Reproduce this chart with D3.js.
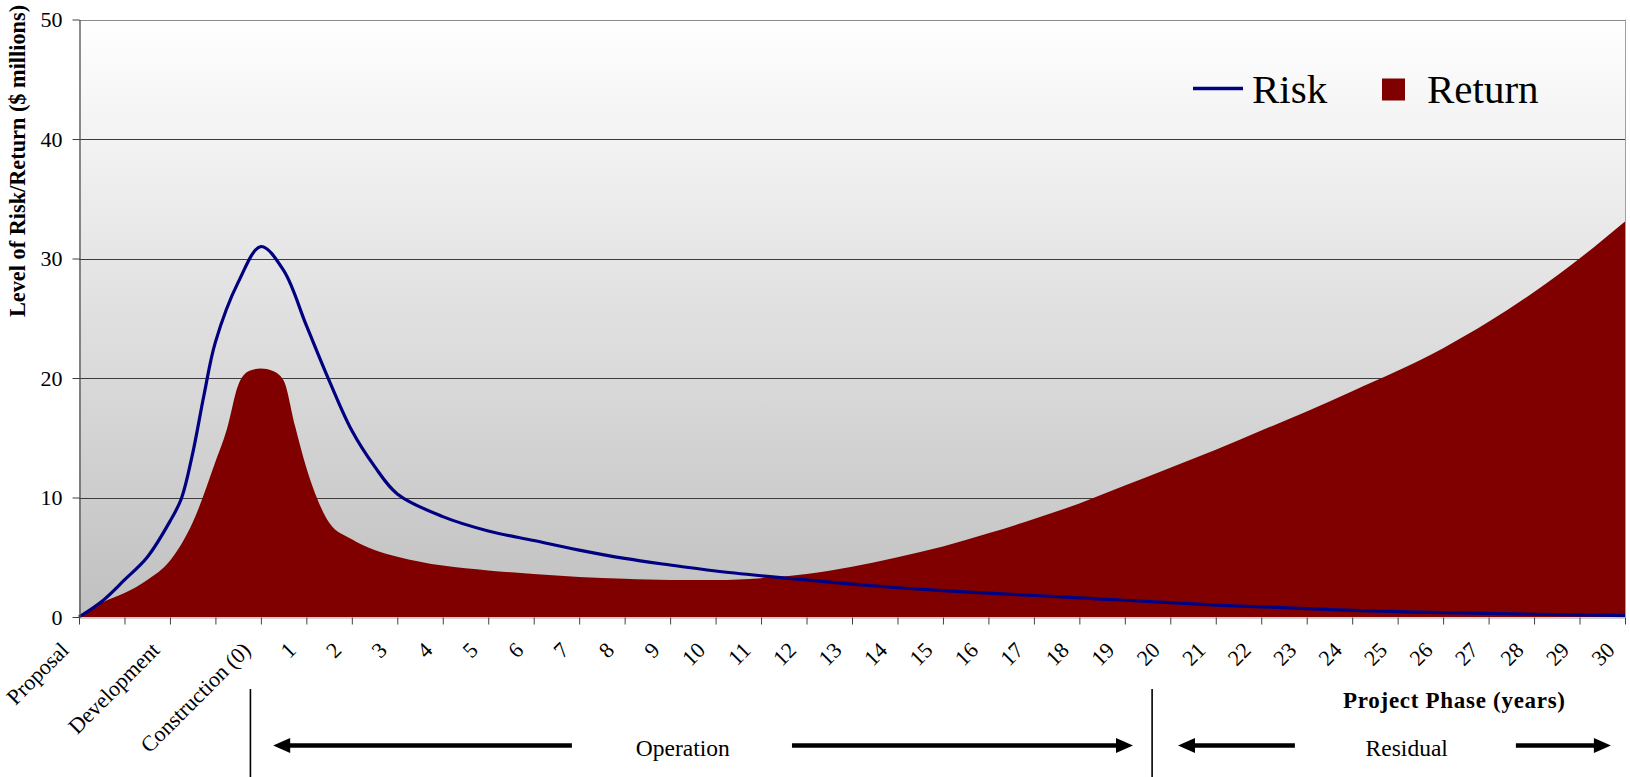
<!DOCTYPE html>
<html>
<head>
<meta charset="utf-8">
<script src="https://cdn.jsdelivr.net/npm/d3@7"></script>
<style>
  html, body { margin: 0; padding: 0; background: #ffffff; }
  svg { display: block; font-family: "Liberation Serif", "Times New Roman", serif; }
</style>
</head>
<body>
<svg id="chart" width="1630" height="777"></svg>
<script>
// Project phases along the horizontal axis (one per tick mark)
const phaseLabels = [
  "Proposal", "", "Development", "", "Construction (0)",
  "1", "2", "3", "4", "5", "6", "7", "8", "9", "10",
  "11", "12", "13", "14", "15", "16", "17", "18", "19", "20",
  "21", "22", "23", "24", "25", "26", "27", "28", "29", "30"
];

// Vertical axis ticks ($ millions)
const valueTicks = [0, 10, 20, 30, 40, 50];

// Risk profile: position on the phase axis and level ($ millions)
const riskPhase = [0, 0.5, 1, 1.5, 2, 2.25, 2.5, 2.75, 3, 3.5, 4, 4.5, 5, 5.5, 6, 6.5, 7,
  8, 9, 10, 11, 12, 13, 14, 15, 16, 17, 18, 19, 20, 21, 22, 23, 24, 25, 26, 27, 28, 29, 30, 31, 32, 33, 34];
const riskValue = [0, 1.3, 3.1, 5.0, 8.0, 9.9, 13.7, 18.6, 23.0, 28.0, 31.0, 29.0, 24.4, 19.8, 15.6, 12.6, 10.3,
  8.4, 7.2, 6.4, 5.6, 4.9, 4.35, 3.85, 3.45, 3.1, 2.75, 2.45, 2.2, 2.0, 1.8, 1.6, 1.4, 1.2, 1.0, 0.85, 0.7, 0.55, 0.45, 0.37, 0.3, 0.23, 0.17, 0.12];

// Return profile: position on the phase axis and level ($ millions)
const returnPhase = [0, 0.5, 1, 1.5, 2, 2.5, 3, 3.25, 3.5, 3.75, 4, 4.25, 4.5, 4.75, 5, 5.25, 5.5, 6, 6.5, 7,
  8, 9, 10, 11, 12, 13, 14, 15, 16, 17, 18, 19, 20, 21, 22, 23, 24, 25, 26, 27, 28, 29, 30, 31, 32, 33, 34];
const returnValue = [0, 1.2, 2.0, 3.1, 4.7, 7.9, 13.0, 15.7, 19.4, 20.6, 20.8, 20.6, 19.8, 16.0, 12.5, 9.8, 7.9, 6.5, 5.6, 5.05,
  4.3, 3.9, 3.6, 3.35, 3.2, 3.1, 3.1, 3.25, 3.6, 4.2, 5.0, 5.9, 7.0, 8.2, 9.5, 11.0, 12.5, 14.0, 15.6, 17.2, 18.9, 20.6, 22.5, 24.7, 27.2, 30.0, 33.1];

const seriesNames = ["Risk", "Return"];
const seriesColors = ["#000080", "#800000"];

const yTitle = "Level of Risk/Return ($ millions)";
const xTitle = "Project Phase (years)";
// Period spans below the axis: label, start/end on the phase axis
const periods = [
  { name: "Operation", divider: 3.77, leftTip: 4.27, leftEnd: 10.84, center: 13.28, rightStart: 15.68, rightTip: 23.18 },
  { name: "Residual",  divider: 23.6, leftTip: 24.17, leftEnd: 26.74, center: 29.2, rightStart: 31.6, rightTip: 33.69 }
];

// ---- layout ----
const W = 1630, H = 777;
const plot = { left: 79, right: 1625, top: 19.5, bottom: 617 };

const svg = d3.select("#chart");

const x = d3.scaleLinear().domain([0, phaseLabels.length - 1]).range([plot.left, plot.right]);
const y = d3.scaleLinear().domain([0, 50]).range([plot.bottom, plot.top]);

// plot-area background: white fading to grey
const defs = svg.append("defs");
const grad = defs.append("linearGradient").attr("id", "bg").attr("x1", 0).attr("y1", 0).attr("x2", 0).attr("y2", 1);
grad.append("stop").attr("offset", "0%").attr("stop-color", "#ffffff");
grad.append("stop").attr("offset", "100%").attr("stop-color", "#c0c0c0");

svg.append("rect")
  .attr("x", plot.left).attr("y", plot.top)
  .attr("width", plot.right - plot.left).attr("height", plot.bottom - plot.top)
  .attr("fill", "url(#bg)");

// right edge of plot area
svg.append("line")
  .attr("x1", plot.right + 0.5).attr("x2", plot.right + 0.5)
  .attr("y1", plot.top).attr("y2", plot.bottom)
  .attr("stroke", "#a0a0a0").attr("stroke-width", 1);

// horizontal gridlines
svg.append("g").selectAll("line")
  .data(valueTicks.filter(v => v > 0))
  .join("line")
  .attr("x1", plot.left).attr("x2", plot.right)
  .attr("y1", d => Math.round(y(d)) + 0.5).attr("y2", d => Math.round(y(d)) + 0.5)
  .attr("stroke", d => d === 50 ? "#8a8a8a" : "#3c3c3c")
  .attr("stroke-width", 1);

// Return area
const returnData = returnPhase.map((p, i) => [p, returnValue[i]]);
svg.append("path")
  .datum(returnData)
  .attr("fill", seriesColors[1])
  .attr("d", d3.area()
    .x(d => x(d[0]))
    .y0(y(0))
    .y1(d => y(d[1]))
    .curve(d3.curveMonotoneX));

// Risk line
const riskData = riskPhase.map((p, i) => [p, riskValue[i]]);
svg.append("path")
  .datum(riskData)
  .attr("fill", "none")
  .attr("stroke", seriesColors[0])
  .attr("stroke-width", 3.2)
  .attr("stroke-linejoin", "round")
  .attr("d", d3.line()
    .x(d => x(d[0]))
    .y(d => y(d[1]))
    .curve(d3.curveCatmullRom.alpha(0.5)));

// y axis
const yAxis = svg.append("g")
  .attr("transform", `translate(${plot.left + 0.5},0)`)
  .call(d3.axisLeft(y).tickValues(valueTicks).tickSize(7).tickSizeOuter(0).tickPadding(10));
yAxis.select(".domain").attr("stroke", "#505050").attr("stroke-width", 1.3);
yAxis.selectAll(".tick line").attr("stroke", "#404040");
yAxis.selectAll(".tick text")
  .attr("font-family", "Liberation Serif, Times New Roman, serif")
  .attr("font-size", 22).attr("fill", "#000");

// x axis
const xAxis = svg.append("g")
  .attr("transform", `translate(0,${plot.bottom + 0.5})`)
  .call(d3.axisBottom(x)
    .tickValues(d3.range(phaseLabels.length))
    .tickFormat(i => phaseLabels[i])
    .tickSize(7).tickSizeOuter(0));
xAxis.select(".domain").attr("stroke", "#a0a0a0").attr("stroke-width", 1);
xAxis.selectAll(".tick line").attr("stroke", "#404040");
xAxis.selectAll(".tick text")
  .attr("font-family", "Liberation Serif, Times New Roman, serif")
  .attr("font-size", 22).attr("fill", "#000")
  .attr("text-anchor", "end")
  .attr("x", 0).attr("y", 0).attr("dy", 0)
  .attr("transform", "translate(-9.5,34) rotate(-45)");

// axis titles
svg.append("text")
  .attr("transform", "translate(25,161) rotate(-90)")
  .attr("text-anchor", "middle")
  .attr("font-weight", "bold")
  .attr("font-size", 22.3)
  .text(yTitle);

svg.append("text")
  .attr("x", x(30.24)).attr("y", 708)
  .attr("text-anchor", "middle")
  .attr("font-weight", "bold")
  .attr("font-size", 23)
  .attr("textLength", 222)
  .attr("lengthAdjust", "spacing")
  .text(xTitle);

// legend
const legend = svg.append("g");
legend.append("line")
  .attr("x1", 1193).attr("x2", 1243).attr("y1", 88.5).attr("y2", 88.5)
  .attr("stroke", seriesColors[0]).attr("stroke-width", 3.5);
legend.append("text").attr("x", 1252).attr("y", 103).attr("font-size", 41).text(seriesNames[0]);
legend.append("rect").attr("x", 1382).attr("y", 78.5).attr("width", 23).attr("height", 22).attr("fill", seriesColors[1]);
legend.append("text").attr("x", 1427).attr("y", 103).attr("font-size", 41).text(seriesNames[1]);

// period spans under the axis
const arrowY = 745.5;
function arrowHead(g, tipX, dir) {
  const len = 17, half = 7.5;
  g.append("path")
    .attr("d", `M${tipX},${arrowY} L${tipX + dir * len},${arrowY - half} L${tipX + dir * len},${arrowY + half} Z`)
    .attr("fill", "#000");
}
periods.forEach(p => {
  const g = svg.append("g");
  g.append("line")
    .attr("x1", x(p.divider)).attr("x2", x(p.divider))
    .attr("y1", 689).attr("y2", H)
    .attr("stroke", "#000").attr("stroke-width", 1.6);
  g.append("line")
    .attr("x1", x(p.leftTip) + 10).attr("x2", x(p.leftEnd))
    .attr("y1", arrowY).attr("y2", arrowY)
    .attr("stroke", "#000").attr("stroke-width", 4.5);
  arrowHead(g, x(p.leftTip), 1);
  g.append("line")
    .attr("x1", x(p.rightStart)).attr("x2", x(p.rightTip) - 10)
    .attr("y1", arrowY).attr("y2", arrowY)
    .attr("stroke", "#000").attr("stroke-width", 4.5);
  arrowHead(g, x(p.rightTip), -1);
  g.append("text")
    .attr("x", x(p.center)).attr("y", 756)
    .attr("text-anchor", "middle")
    .attr("font-size", 23.5)
    .text(p.name);
});
</script>
</body>
</html>
